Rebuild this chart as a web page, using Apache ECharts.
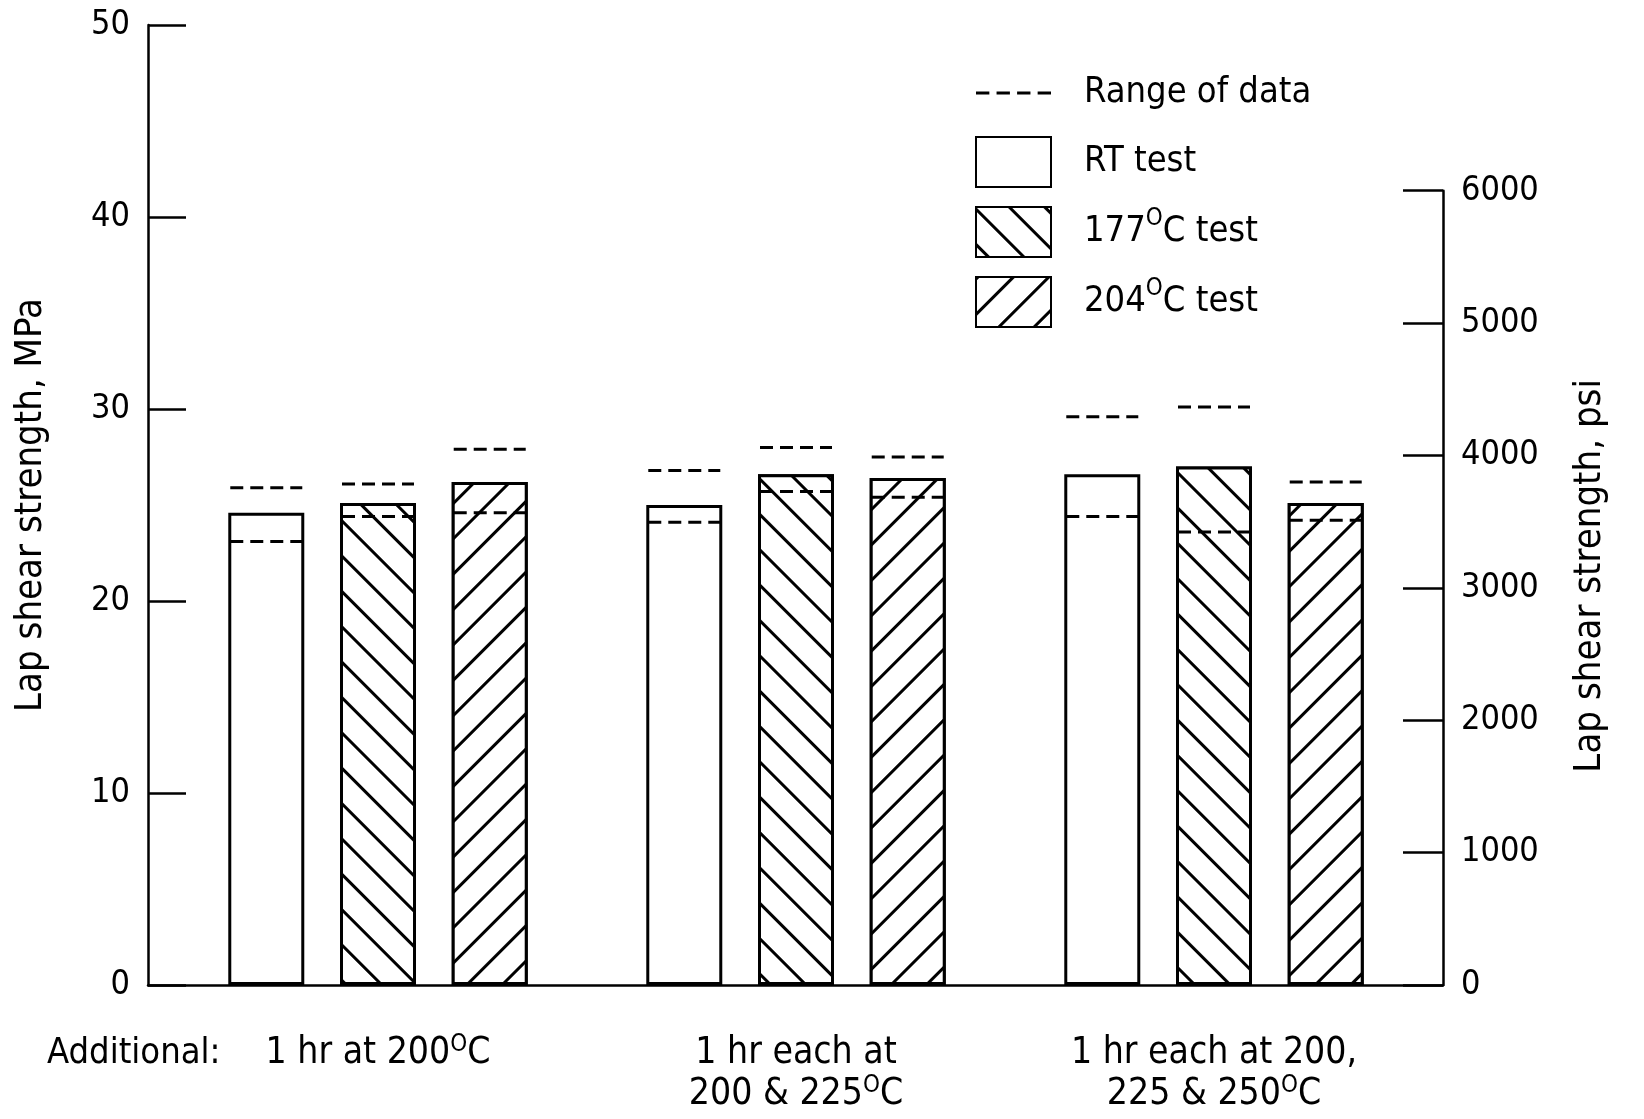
<!DOCTYPE html>
<html>
<head>
<meta charset="utf-8">
<script src="https://cdn.jsdelivr.net/npm/echarts@6/dist/echarts.min.js"></script>
<style>
  html, body { margin: 0; background: #fff; }
  #chart { width: 1644px; height: 1119px; }
</style>
</head>
<body>
<div id="chart"></div>
<script>
var categories = ['1 hr at 200°C', '1 hr each at\n200 & 225°C', '1 hr each at 200,\n225 & 250°C'];
var testNames = ['RT test', '177°C test', '204°C test'];

// mean lap shear strength, MPa
var rtValues = [24.6, 25.0, 26.6];
var t177Values = [25.1, 26.6, 27.0];
var t204Values = [26.2, 26.4, 25.1];

// range of data [low, high], MPa
var rtRange = [[23.1, 25.9], [24.1, 26.8], [24.4, 29.6]];
var t177Range = [[24.4, 26.1], [25.7, 28.0], [23.6, 30.1]];
var t204Range = [[24.6, 27.9], [25.4, 27.5], [24.2, 26.2]];

var MPA_MAX = 50;
var PSI_MAX = 6000;
var PSI_PER_MPA = 145.038;

var FONT = '"DejaVu Sans Condensed", "DejaVu Sans", sans-serif';

var BAR_W = 76;
var BAR_GAP = 0.47;

var GRID_TOP = 25, GRID_BOTTOM = 134, CHART_H = 1119;
var plotH = CHART_H - GRID_TOP - GRID_BOTTOM;
var psiH = plotH * PSI_MAX / (MPA_MAX * PSI_PER_MPA);

var chart = echarts.init(document.getElementById('chart'));

function hatch(rot) {
    return {
        symbol: 'rect',
        symbolSize: 1,
        color: '#000',
        backgroundColor: '#fff',
        dashArrayX: [1, 0],
        dashArrayY: [2.5, 21.5],
        rotation: rot
    };
}

function supText(s) {
    return s.replace('°', '{sup|O}');
}

function plainNum(v) {
    return String(v);
}

var supStyle = { fontFamily: FONT, fontSize: 24, verticalAlign: 'top', padding: [0, 0, 14, 0] };

var ranges = [rtRange, t177Range, t204Range];
var rangeData = [];
ranges.forEach(function (r, s) {
    r.forEach(function (lh, c) {
        rangeData.push([c, s, lh[0], lh[1]]);
    });
});

function barSeries(name, data, decal) {
    var st = { color: '#fff', borderColor: '#000', borderWidth: 3 };
    if (decal) st.decal = decal;
    return {
        name: name,
        type: 'bar',
        xAxisIndex: 1,
        yAxisIndex: 1,
        barWidth: BAR_W,
        barGap: (BAR_GAP * 100) + '%',
        data: data,
        itemStyle: st,
        emphasis: { disabled: true },
        z: 2
    };
}

var option = {
    animation: false,
    backgroundColor: '#fff',
    grid: [
        { left: 148, right: 201, top: GRID_TOP, bottom: GRID_BOTTOM },
        { left: 169, right: 221, top: GRID_TOP, bottom: GRID_BOTTOM },
        { left: 148, right: 201, height: psiH, bottom: GRID_BOTTOM }
    ],
    legend: {
        orient: 'vertical',
        left: 970,
        top: 63,
        itemWidth: 75,
        itemHeight: 50,
        itemGap: 18,
        selectedMode: false,
        data: [
            { name: 'Range of data', icon: 'path://M0,0h13v3h-13z M20,0h13v3h-13z M40,0h13v3h-13z M60,0h13v3h-13z' },
            { name: testNames[0], icon: 'rect' },
            { name: testNames[1], icon: 'rect' },
            { name: testNames[2], icon: 'rect' }
        ],
        formatter: supText,
        textStyle: {
            fontFamily: FONT, fontSize: 36, lineHeight: 50, color: '#000', padding: [0, 0, 0, 28],
            rich: { sup: supStyle }
        }
    },
    xAxis: [
        {
            gridIndex: 0, type: 'value', min: 0, max: 1,
            axisLine: { show: true, onZero: false, lineStyle: { color: '#000', width: 2.5 } },
            axisTick: { show: false }, axisLabel: { show: false }, splitLine: { show: false }
        },
        {
            gridIndex: 1, type: 'category', data: categories,
            axisLine: { show: false }, axisTick: { show: false }, splitLine: { show: false },
            axisLabel: {
                interval: 0, hideOverlap: false,
                margin: 48, color: '#000', fontFamily: FONT, fontSize: 37, lineHeight: 41,
                formatter: supText,
                rich: { sup: supStyle }
            }
        },
        { gridIndex: 2, type: 'value', show: false, min: 0, max: 1 }
    ],
    yAxis: [
        {
            gridIndex: 0, type: 'value', min: 0, max: MPA_MAX, interval: 10,
            name: 'Lap shear strength, MPa', nameLocation: 'middle', nameRotate: 90, nameGap: 98,
            nameTextStyle: { fontFamily: FONT, fontSize: 38, color: '#000' },
            axisLine: { show: true, onZero: false, lineStyle: { color: '#000', width: 2.5 } },
            axisTick: { show: true, inside: true, length: 38, lineStyle: { color: '#000', width: 2.5 } },
            axisLabel: { margin: 18, color: '#000', fontFamily: FONT, fontSize: 34, formatter: plainNum },
            splitLine: { show: false }
        },
        { gridIndex: 1, type: 'value', min: 0, max: MPA_MAX, show: false },
        {
            gridIndex: 2, type: 'value', position: 'right', min: 0, max: PSI_MAX, interval: 1000,
            name: 'Lap shear strength, psi', nameLocation: 'middle', nameRotate: 90, nameGap: 128,
            nameTextStyle: { fontFamily: FONT, fontSize: 38, color: '#000', padding: [0, 0, 0, 24] },
            axisLine: { show: true, onZero: false, lineStyle: { color: '#000', width: 2.5 } },
            axisTick: { show: true, inside: true, length: 40, lineStyle: { color: '#000', width: 2.5 } },
            axisLabel: { margin: 18, color: '#000', fontFamily: FONT, fontSize: 34, formatter: plainNum },
            splitLine: { show: false }
        }
    ],
    series: [
        barSeries(testNames[0], rtValues, null),
        barSeries(testNames[1], t177Values, hatch(Math.PI / 4)),
        barSeries(testNames[2], t204Values, hatch(-Math.PI / 4)),
        {
            name: 'Range of data',
            type: 'custom',
            xAxisIndex: 1,
            yAxisIndex: 1,
            itemStyle: { color: '#000' },
            data: rangeData,
            z: 5,
            renderItem: function (params, api) {
                var cat = api.value(0);
                var s = api.value(1);
                var off = (s - 1) * (BAR_W + BAR_W * BAR_GAP);
                var lo = api.coord([cat, api.value(2)]);
                var hi = api.coord([cat, api.value(3)]);
                var half = BAR_W / 2 - 2;
                var x0 = lo[0] + off - half, x1 = lo[0] + off + half;
                var ls = { stroke: '#000', lineWidth: 3, lineDash: [13, 7] };
                return {
                    type: 'group',
                    children: [
                        { type: 'line', shape: { x1: x0, y1: lo[1], x2: x1, y2: lo[1] }, style: ls },
                        { type: 'line', shape: { x1: x0, y1: hi[1], x2: x1, y2: hi[1] }, style: ls }
                    ]
                };
            }
        }
    ],
    graphic: [
        {
            type: 'text', left: 47, top: 1036,
            style: { text: 'Additional:', font: '36px ' + FONT, fill: '#000' }
        }
    ]
};

chart.setOption(option);
</script>
</body>
</html>
